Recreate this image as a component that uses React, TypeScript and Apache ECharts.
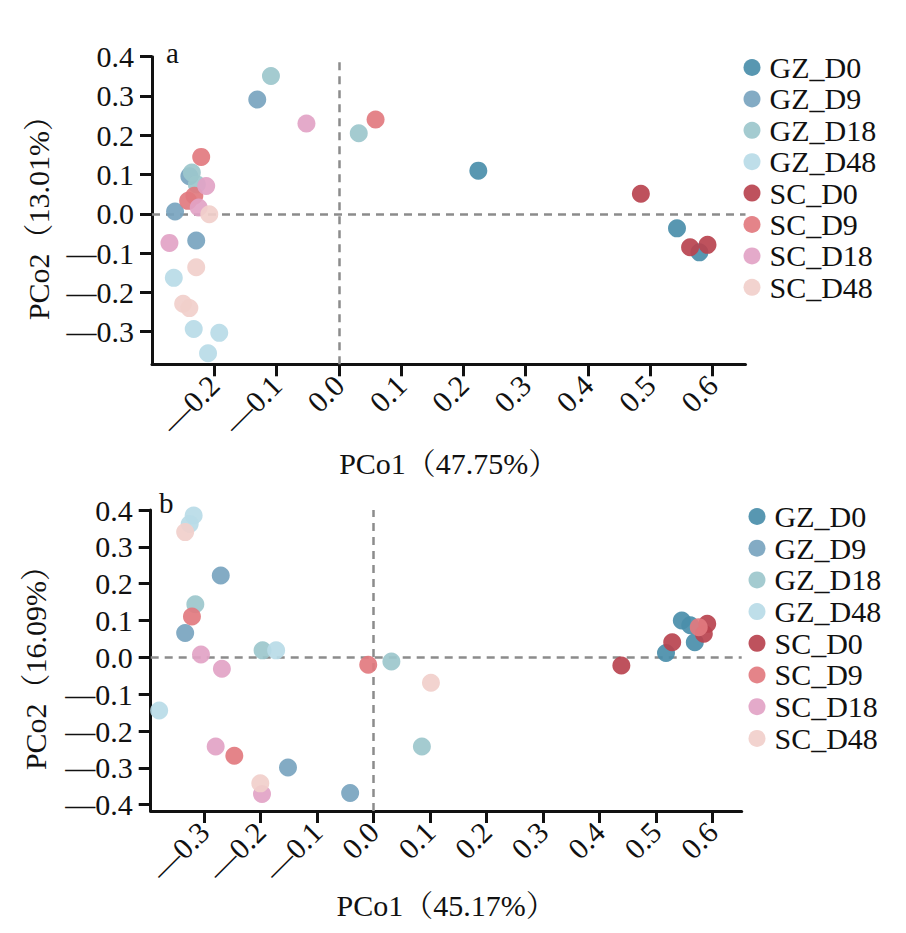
import React, { useEffect, useRef } from "react";
import * as echarts from "echarts";

const groups = ["GZ_D0", "GZ_D9", "GZ_D18", "GZ_D48", "SC_D0", "SC_D9", "SC_D18", "SC_D48"];
const colors = ["#4a8eaa", "#78a4bf", "#9cc7cc", "#b9dbe7", "#b8434f", "#e27a7f", "#e2a3c6", "#f1cfcb"];

// Panel a: PCo1 (47.75%), PCo2 (13.01%)
const aGZ_D0 = [[0.224, 0.110], [0.543, -0.037], [0.579, -0.098]];
const aGZ_D9 = [[-0.131, 0.291], [-0.240, 0.096], [-0.263, 0.006], [-0.229, -0.068]];
const aGZ_D18 = [[-0.109, 0.351], [0.032, 0.205], [-0.236, 0.105], [-0.228, 0.075]];
const aGZ_D48 = [[-0.265, -0.163], [-0.233, -0.293], [-0.192, -0.303], [-0.210, -0.355]];
const aSC_D0 = [[0.485, 0.051], [0.564, -0.085], [0.592, -0.079]];
const aSC_D9 = [[0.059, 0.240], [-0.221, 0.145], [-0.232, 0.046], [-0.242, 0.033]];
const aSC_D18 = [[-0.052, 0.230], [-0.213, 0.071], [-0.225, 0.016], [-0.272, -0.074]];
const aSC_D48 = [[-0.208, -0.001], [-0.229, -0.136], [-0.250, -0.229], [-0.240, -0.240]];

// Panel b: PCo1 (45.17%), PCo2 (16.09%)
const bGZ_D0 = [[0.546, 0.100], [0.561, 0.087], [0.569, 0.041], [0.518, 0.012]];
const bGZ_D9 = [[-0.270, 0.222], [-0.333, 0.066], [-0.151, -0.299], [-0.041, -0.368]];
const bGZ_D18 = [[-0.315, 0.144], [-0.196, 0.019], [0.032, -0.011], [0.086, -0.242]];
const bGZ_D48 = [[-0.318, 0.385], [-0.325, 0.362], [-0.172, 0.019], [-0.379, -0.144]];
const bSC_D0 = [[0.591, 0.091], [0.585, 0.064], [0.529, 0.041], [0.439, -0.022]];
const bSC_D9 = [[-0.321, 0.111], [-0.246, -0.267], [-0.009, -0.020], [0.576, 0.082]];
const bSC_D18 = [[-0.305, 0.008], [-0.268, -0.031], [-0.279, -0.242], [-0.197, -0.371]];
const bSC_D48 = [[-0.333, 0.340], [-0.200, -0.342], [0.102, -0.069]];

const aData = [aGZ_D0, aGZ_D9, aGZ_D18, aGZ_D48, aSC_D0, aSC_D9, aSC_D18, aSC_D48];
const bData = [bGZ_D0, bGZ_D9, bGZ_D18, bGZ_D48, bSC_D0, bSC_D9, bSC_D18, bSC_D48];

const aXTicks = [-0.2, -0.1, 0, 0.1, 0.2, 0.3, 0.4, 0.5, 0.6];
const aYTicks = [-0.3, -0.2, -0.1, 0, 0.1, 0.2, 0.3, 0.4];
const bXTicks = [-0.3, -0.2, -0.1, 0, 0.1, 0.2, 0.3, 0.4, 0.5, 0.6];
const bYTicks = [-0.4, -0.3, -0.2, -0.1, 0, 0.1, 0.2, 0.3, 0.4];

const aXName = "PCo1（47.75%）";
const aYName = "PCo2（13.01%）";
const bXName = "PCo1（45.17%）";
const bYName = "PCo2（16.09%）";

const FONT = "'Liberation Serif', 'Noto Serif CJK SC', 'Noto Sans CJK SC', serif";

const fmt = (v: number) => (v < -1e-9 ? "—" : "") + Math.abs(v).toFixed(1);

function axis(kind: "x" | "y", gridIndex: number, min: number, max: number, ticks: number[], name: string, gap: number) {
  return {
    type: "value",
    gridIndex,
    min,
    max,
    name,
    nameLocation: "middle",
    nameGap: gap,
    nameTextStyle: { fontFamily: FONT, fontSize: 30, color: "#111" },
    axisLine: { show: true, onZero: false, lineStyle: { color: "#111", width: 3 } },
    axisTick: { show: true, customValues: ticks, length: 12, lineStyle: { color: "#111", width: 3 } },
    axisLabel: {
      show: true,
      customValues: ticks,
      formatter: fmt,
      fontFamily: FONT,
      fontSize: 30,
      color: "#111",
      margin: kind === "x" ? 16 : 18,
      rotate: kind === "x" ? 45 : 0,
    },
    splitLine: { show: false },
  };
}

export default function App() {
  const ref = useRef<HTMLDivElement>(null);
  useEffect(() => {
    if (!ref.current) return;
    const chart = echarts.init(ref.current, undefined, { renderer: "svg" });
    const series: any[] = [];
    const mk = {
      silent: true,
      symbol: "none",
      label: { show: false },
      lineStyle: { color: "#8c8c8c", width: 2.5, type: [8, 6] },
      data: [{ xAxis: 0 }, { yAxis: 0 }],
    };
    [aData, bData].forEach((panel, p) => {
      panel.forEach((d, i) => {
        series.push({
          type: "scatter",
          name: groups[i],
          xAxisIndex: p,
          yAxisIndex: p,
          data: d,
          symbolSize: 18,
          itemStyle: { color: colors[i], opacity: 0.92 },
          z: 3,
          markLine: i === 0 ? { ...mk, z: 1 } : undefined,
        });
      });
    });
    const legendBase = {
      orient: "vertical",
      icon: "circle",
      itemWidth: 17,
      itemHeight: 17,
      padding: 0,
      selectedMode: false,
      data: groups,
      textStyle: { fontFamily: FONT, fontSize: 30, color: "#111", lineHeight: 28, padding: [0, 0, 0, 4] },
    };
    chart.setOption({
      animation: false,
      backgroundColor: "#fff",
      grid: [
        { left: 152, top: 56.7, width: 593.5, height: 307.6 },
        { left: 150.7, top: 510, width: 591, height: 301 },
      ],
      xAxis: [
        axis("x", 0, -0.3, 0.653, aXTicks, aXName, 84),
        axis("x", 1, -0.394, 0.652, bXTicks, bXName, 79),
      ],
      yAxis: [
        axis("y", 0, -0.383, 0.4, aYTicks, aYName, 99),
        axis("y", 1, -0.417, 0.4, bYTicks, bYName, 100),
      ],
      legend: [
        { ...legendBase, left: 743.5, top: 52.5, itemGap: 1.4 },
        { ...legendBase, left: 748.5, top: 501.5, itemGap: 1.7 },
      ],
      graphic: [
        { type: "text", left: 166, top: 38, style: { text: "a", font: `29px ${FONT}`, fill: "#111" } },
        { type: "text", left: 159, top: 488, style: { text: "b", font: `29px ${FONT}`, fill: "#111" } },
      ],
      series,
    });
    return () => chart.dispose();
  }, []);
  return (
    <div
      ref={ref}
      style={{ position: "fixed", left: 0, top: 0, width: 906, height: 933, background: "#fff" }}
    />
  );
}
